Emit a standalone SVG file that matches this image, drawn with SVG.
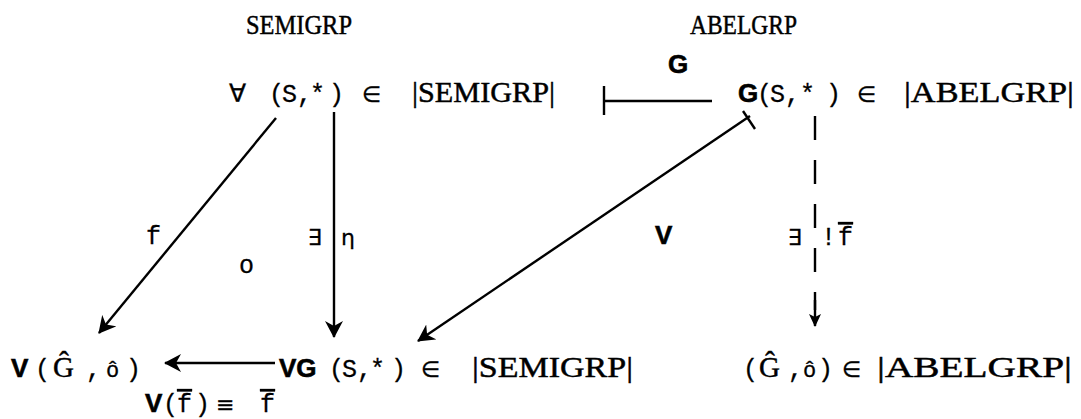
<svg xmlns="http://www.w3.org/2000/svg" width="1081" height="419" viewBox="0 0 1081 419">
<defs>
<style>
text{fill:#000}
.serif{font-family:"Liberation Serif","DejaVu Serif",serif;font-size:27px;stroke:#000;stroke-width:0.45}
.rowserif{font-family:"Liberation Serif","DejaVu Serif",serif;font-size:29px;stroke:#000;stroke-width:0.45}
.mono{font-family:"Liberation Mono","DejaVu Sans Mono",monospace;font-size:25px;stroke:#000;stroke-width:0.3}
.sym{font-family:"DejaVu Sans","Liberation Sans",sans-serif;font-size:22px;stroke:#000;stroke-width:0.3}
.bold{font-family:"Liberation Sans","DejaVu Sans",sans-serif;font-weight:bold;font-size:26px;stroke:#000;stroke-width:0.6}
.edge{stroke:#000;stroke-width:2.4;fill:none}
.dash{stroke:#000;stroke-width:2.4;fill:none;stroke-dasharray:24 20}
.ol{text-decoration:overline}
</style>
<marker id="ah" markerUnits="userSpaceOnUse" markerWidth="20" markerHeight="18" refX="16" refY="9" orient="auto">
<path d="M0,0 L17,9 L0,18 L5,9 z" fill="#000"/>
</marker>
<marker id="ahs" markerUnits="userSpaceOnUse" markerWidth="14" markerHeight="14" refX="12" refY="6" orient="auto">
<path d="M0,0 L13,6 L0,12 L3,6 z" fill="#000"/>
</marker>
</defs>
<rect width="1081" height="419" fill="#fff"/>

<g id="cat-semigrp"><text class="serif" x="246" y="34" textLength="106" lengthAdjust="spacingAndGlyphs">SEMIGRP</text></g>
<g id="cat-abelgrp"><text class="serif" x="690" y="34" textLength="107" lengthAdjust="spacingAndGlyphs">ABELGRP</text></g>

<g id="node-S">
<text class="sym" x="229" y="102" style="font-size:25px">∀</text>
<text class="mono" x="269" y="102">(</text>
<text class="mono" x="282" y="102">S</text>
<text class="mono" x="297" y="102">,</text>
<text class="mono" x="310" y="102">*</text>
<text class="mono" x="329" y="102">)</text>
<text class="sym" x="362" y="102">∈</text>
<text class="rowserif" x="412" y="102" textLength="143" lengthAdjust="spacingAndGlyphs">|SEMIGRP|</text>
</g>

<g id="node-GS">
<text class="bold" x="738" y="102">G</text>
<text class="mono" x="757" y="102">(</text>
<text class="mono" x="770" y="102">S</text>
<text class="mono" x="785" y="102">,</text>
<text class="mono" x="800" y="102">*</text>
<text class="mono" x="826" y="102">)</text>
<text class="sym" x="857" y="102">∈</text>
<text class="rowserif" x="904" y="102" textLength="170" lengthAdjust="spacingAndGlyphs">|ABELGRP|</text>
</g>

<g id="node-VGhat">
<text class="bold" x="11" y="377">V</text>
<text class="mono" x="35" y="377">(</text>
<text class="rowserif" x="53" y="377">Ĝ</text>
<text class="mono" x="86" y="377">,</text>
<text class="mono" x="106" y="377" style="font-size:22px">ô</text>
<text class="mono" x="126" y="377">)</text>
</g>

<g id="node-VGS">
<text class="bold" x="279" y="377">VG</text>
<text class="mono" x="329" y="377">(</text>
<text class="mono" x="342" y="377">S</text>
<text class="mono" x="357" y="377">,</text>
<text class="mono" x="370" y="377">*</text>
<text class="mono" x="391" y="377">)</text>
<text class="sym" x="421" y="377">∈</text>
<text class="rowserif" x="472" y="377" textLength="161" lengthAdjust="spacingAndGlyphs">|SEMIGRP|</text>
</g>

<g id="node-Ghat">
<text class="mono" x="743" y="377">(</text>
<text class="rowserif" x="759" y="377">Ĝ</text>
<text class="mono" x="788" y="377">,</text>
<text class="mono" x="803" y="377" style="font-size:22px">ô</text>
<text class="mono" x="818" y="377">)</text>
<text class="sym" x="842" y="377">∈</text>
<text class="rowserif" x="877" y="377" textLength="195" lengthAdjust="spacingAndGlyphs">|ABELGRP|</text>
</g>

<g id="connectors">
<line class="edge" x1="604" y1="86" x2="604" y2="115"/>
<line class="edge" x1="604" y1="101" x2="712" y2="101"/>
<line class="edge" x1="276" y1="118" x2="99" y2="333" marker-end="url(#ah)"/>
<line class="edge" x1="334" y1="112" x2="334" y2="337" marker-end="url(#ah)"/>
<line class="edge" x1="750" y1="116" x2="418" y2="341" marker-end="url(#ah)"/>
<line class="edge" x1="743" y1="111" x2="755" y2="129"/>
<line class="dash" x1="815" y1="116" x2="815" y2="310"/>
<line class="edge" x1="815" y1="300" x2="815" y2="326" marker-end="url(#ahs)"/>
<line class="edge" x1="275" y1="363" x2="165" y2="363" marker-end="url(#ah)"/>
</g>

<g id="labels">
<text class="bold" x="668" y="73">G</text>
<text class="mono" x="146" y="244">f</text>
<text class="mono" x="239" y="273">o</text>
<text class="sym" x="308" y="245">∃</text>
<text class="sym" x="341" y="245">η</text>
<text class="bold" x="655" y="244">V</text>
<text class="sym" x="788" y="245">∃</text>
<text class="mono" x="821" y="245">!</text>
<text class="mono ol" x="838" y="245">f</text>
<text class="bold" x="145" y="412">V</text>
<text class="mono" x="163" y="412">(</text>
<text class="mono ol" x="177" y="412">f</text>
<text class="mono" x="195" y="412">)</text>
<text class="sym" x="216" y="412">≡</text>
<text class="mono ol" x="260" y="412">f</text>
</g>
</svg>
